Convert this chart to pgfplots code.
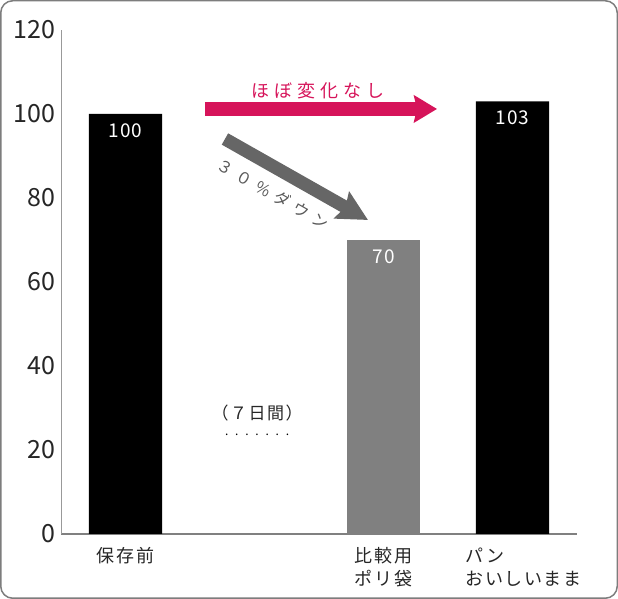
\documentclass[border=0pt]{standalone}
\usepackage{fontspec}
\setmainfont{Noto Sans CJK JP}
\newfontfamily\jpwide[LetterSpace=28]{Noto Sans CJK JP}
\newfontfamily\jpdown[LetterSpace=36]{Noto Sans CJK JP}
\newfontfamily\jpmid[LetterSpace=9]{Noto Sans CJK JP}
\newfontfamily\jpnum[LetterSpace=6]{Noto Sans CJK JP}
\usepackage{pgfplots}
\pgfplotsset{compat=1.18}
\usetikzlibrary{arrows.meta}
\definecolor{pinkred}{RGB}{214,20,90}
\definecolor{arrowgray}{RGB}{102,102,102}
\definecolor{bargray}{RGB}{128,128,128}
\definecolor{framegray}{RGB}{125,125,125}
\begin{document}
\begin{tikzpicture}[x=1pt,y=1pt]
% outer frame
\draw[framegray, line width=1.5pt, rounded corners=12pt] (0.75,0.75) rectangle (617.25,598.25);
\begin{axis}[
    at={(61pt,65pt)}, anchor=south west,
    scale only axis, width=516pt, height=504pt,
    xmin=-0.5, xmax=3.5, ymin=0, ymax=120,
    ybar, bar width=0.566, bar shift=0pt,
    axis x line=bottom, axis y line=left,
    axis line style={-},
    x axis line style={draw=gray, line width=1.2pt},
    y axis line style={draw=gray!80, line width=0.8pt},
    major tick length=0pt,
    ytick={0,20,...,120},
    yticklabel style={font=\fontsize{25}{25}\selectfont, text=black!85, xshift=-2pt},
    /pgf/number format/assume math mode=true,
    xtick={0,2,3},
    xticklabels={保存前, {比較用\\ポリ袋}, {パン\\\makebox[94pt][l]{おいしいまま}}},
    xticklabel style={align=left, font=\jpmid\fontsize{18}{23}\selectfont, text=black!85, yshift=-10pt},
    clip=false,
    point meta=explicit symbolic,
    nodes near coords={\pgfplotspointmeta},
    nodes near coords style={text=white, anchor=north, yshift=-6pt, font=\jpnum\fontsize{19}{19}\selectfont},
]
\addplot[fill=black, draw=none] coordinates {(0,100) [100] (3,103) [103]};
\addplot[fill=bargray, draw=none] coordinates {(2,70) [70]};

% annotations
\draw[pinkred, line width=14pt, -{Stealth[length=23pt,width=27pt,inset=3pt]}]
    (axis cs:0.616,101.2) -- (axis cs:2.415,101.2);
\node[text=pinkred, font=\jpwide\fontsize{18}{18}\selectfont] at (axis cs:1.49,105.6) {ほぼ変化なし};
\draw[arrowgray, line width=13pt, -{Stealth[length=30pt,width=30pt,inset=4pt]}]
    (axis cs:0.771,94.05) -- (axis cs:1.880,74.76);
\node[text=black!65, rotate=-29.5, font=\jpdown\fontsize{16}{16}\selectfont] at (axis cs:1.143,80.95) {３０％ダウン};
\node[text=black!85, font=\jpmid\fontsize{17}{17}\selectfont] at (axis cs:1.02,28.8) {（７日間）};
\node[text=black, font=\fontsize{12}{12}\selectfont] at (axis cs:1.02,23.6) {.\hspace{6.8pt}.\hspace{6.8pt}.\hspace{6.8pt}.\hspace{6.8pt}.\hspace{6.8pt}.\hspace{6.8pt}.};
\end{axis}
\end{tikzpicture}
\end{document}
